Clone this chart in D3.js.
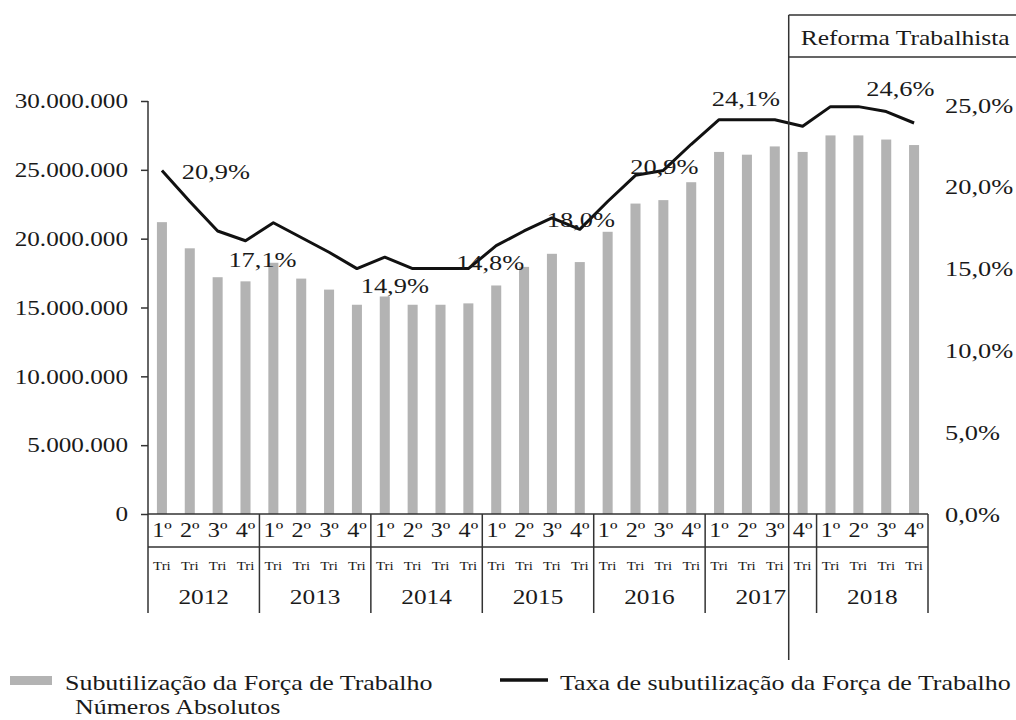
<!DOCTYPE html>
<html>
<head>
<meta charset="utf-8">
<script src="https://cdn.jsdelivr.net/npm/d3@7"></script>
<style>
  body { margin: 0; background: #fff; }
  svg text { font-family: "Liberation Serif", "Times New Roman", serif; fill: #1a1a1a; }
</style>
</head>
<body>
<div id="chart"></div>
<script>
// quarters 2012 Q1 .. 2018 Q4
const years = [2012, 2013, 2014, 2015, 2016, 2017, 2018];
const quarterLabels = ['1º', '2º', '3º', '4º'];

// Subutilização da Força de Trabalho - números absolutos
const absolute = [
    21200000, 19300000, 17200000, 16900000,
    18250000, 17100000, 16300000, 15200000,
    15800000, 15200000, 15200000, 15300000,
    16600000, 17950000, 18900000, 18300000,
    20500000, 22550000, 22800000, 24100000,
    26300000, 26100000, 26700000, 26300000,
    27500000, 27500000, 27200000, 26800000
];

// Taxa de subutilização (%)
const rate = [
    21.0, 19.1, 17.3, 16.7,
    17.8, 16.9, 16.0, 15.0,
    15.7, 15.0, 15.0, 15.0,
    16.4, 17.3, 18.1, 17.4,
    19.1, 20.7, 21.0, 22.6,
    24.1, 24.1, 24.1, 23.7,
    24.9, 24.9, 24.6, 23.9
];

// value annotations: quarter index and printed text
const noteIndex = [0, 3, 8, 12, 14, 18, 21, 25];
const noteText = ['20,9%', '17,1%', '14,9%', '14,8%', '18,0%', '20,9%', '24,1%', '24,6%'];

const leftTicks = [0, 5000000, 10000000, 15000000, 20000000, 25000000, 30000000];
const rightTicks = [0, 5, 10, 15, 20, 25];

const reformIndex = 22.5; // between 3º and 4º Tri 2017

const SX = 1.2;

const locale = d3.formatLocale({decimal: ',', thousands: '.', grouping: [3], currency: ['R$', '']});
const fmtNum = locale.format(',.0f');
const fmtPct = d => locale.format('.1f')(d) + '%';

// stretch text horizontally around its anchor
function stretch(sel, sx = SX) {
    sel.each(function() {
        const t = d3.select(this);
        const x = +t.attr('x') || 0;
        t.attr('x', x / sx).attr('transform', `scale(${sx},1)`);
    });
}

const W = 1016, H = 720;
const svg = d3.select('#chart').append('svg')
    .attr('width', W)
    .attr('height', H);

const keys = [];
years.forEach(y => quarterLabels.forEach((q, i) => keys.push(`${y}-${i + 1}`)));

const x = d3.scaleBand()
    .domain(keys)
    .range([148, 928])
    .paddingInner(0.64)
    .paddingOuter(0.32);
const step = x.step();
const cx = i => x(keys[0]) + x.bandwidth() / 2 + i * step;

const yL = d3.scaleLinear().domain([0, 30000000]).range([514, 101]);
const yR = d3.scaleLinear().domain([0, 25]).range([514, 105]);

const axisColor = '#333';
const rowTop = yL(0), rowMid = 547, rowBottom = 613;

// bars
svg.append('g')
    .selectAll('rect')
    .data(absolute)
    .join('rect')
    .attr('x', (d, i) => x(keys[i]))
    .attr('y', d => yL(d))
    .attr('width', x.bandwidth())
    .attr('height', d => yL(0) - yL(d))
    .attr('fill', '#b3b3b3');

// rate line
const line = d3.line()
    .x((d, i) => cx(i))
    .y(d => yR(d));

svg.append('path')
    .datum(rate)
    .attr('d', line)
    .attr('fill', 'none')
    .attr('stroke', '#111')
    .attr('stroke-width', 3)
    .attr('stroke-linejoin', 'round');

// left axis
const gL = svg.append('g')
    .attr('transform', 'translate(148,0)')
    .call(d3.axisLeft(yL).tickValues(leftTicks).tickFormat(fmtNum).tickSize(7).tickPadding(13));
gL.select('.domain').remove();
gL.selectAll('line').attr('stroke', axisColor).attr('stroke-width', 1.5);
gL.selectAll('text').style('font-size', '21px').attr('fill', '#1a1a1a');
stretch(gL.selectAll('text'));

// right axis (labels only)
const gR = svg.append('g')
    .attr('transform', 'translate(945,0)')
    .call(d3.axisRight(yR).tickValues(rightTicks).tickFormat(fmtPct).tickSize(0).tickPadding(0));
gR.select('.domain').remove();
gR.selectAll('text').style('font-size', '22px').attr('fill', '#1a1a1a');
stretch(gR.selectAll('text'));

// axis frame and category table
svg.append('line')
    .attr('x1', 148).attr('x2', 148)
    .attr('y1', yL(30000000)).attr('y2', rowBottom)
    .attr('stroke', axisColor).attr('stroke-width', 1.5);
svg.append('line')
    .attr('x1', 148).attr('x2', 928)
    .attr('y1', rowTop).attr('y2', rowTop)
    .attr('stroke', axisColor).attr('stroke-width', 1.5);
svg.append('line')
    .attr('x1', 148).attr('x2', 928)
    .attr('y1', rowMid).attr('y2', rowMid)
    .attr('stroke', axisColor).attr('stroke-width', 1.5);

const yearEdges = years.map((y, i) => x(keys[i * 4]) - step * 0.32);
yearEdges.push(928);
svg.append('g')
    .selectAll('line')
    .data(yearEdges.slice(1))
    .join('line')
    .attr('x1', d => d).attr('x2', d => d)
    .attr('y1', rowTop).attr('y2', rowBottom)
    .attr('stroke', axisColor).attr('stroke-width', 1.5);

// quarter labels
const qText = svg.append('g')
    .selectAll('text')
    .data(keys)
    .join('text')
    .attr('x', (d, i) => cx(i))
    .attr('y', 537)
    .attr('text-anchor', 'middle')
    .style('font-size', '21px')
    .text((d, i) => quarterLabels[i % 4]);
stretch(qText, 1.15);

const triText = svg.append('g')
    .selectAll('text')
    .data(keys)
    .join('text')
    .attr('x', (d, i) => cx(i))
    .attr('y', 570)
    .attr('text-anchor', 'middle')
    .style('font-size', '13.5px')
    .text('Tri');
stretch(triText, 1.1);

const yearText = svg.append('g')
    .selectAll('text')
    .data(years)
    .join('text')
    .attr('x', (d, i) => (yearEdges[i] + yearEdges[i + 1]) / 2)
    .attr('y', 604)
    .attr('text-anchor', 'middle')
    .style('font-size', '22px')
    .text(d => d);
stretch(yearText, 1.15);

// value annotations
const noteDx = [54, 17, 10, -6, 29, 1, -1, 42];
const noteDy = [9, 26, 36, 24, 9, 4, -14, -11];
const notes = svg.append('g')
    .selectAll('text')
    .data(noteIndex)
    .join('text')
    .attr('x', (d, i) => cx(d) + noteDx[i])
    .attr('y', (d, i) => yR(rate[d]) + noteDy[i])
    .attr('text-anchor', 'middle')
    .style('font-size', '22px')
    .text((d, i) => noteText[i]);
stretch(notes);

// reforma trabalhista marker
const rx = cx(reformIndex);
svg.append('line')
    .attr('x1', rx).attr('x2', rx)
    .attr('y1', 15).attr('y2', 660)
    .attr('stroke', axisColor).attr('stroke-width', 1.5);
svg.append('path')
    .attr('d', `M${rx},15H${W + 2}M${rx},57H${W + 2}`)
    .attr('stroke', axisColor).attr('stroke-width', 1.5)
    .attr('fill', 'none');
const reformText = svg.append('text')
    .attr('x', rx + 12)
    .attr('y', 45)
    .style('font-size', '22px')
    .text('Reforma Trabalhista');
stretch(reformText, 1.16);

// legend
svg.append('rect')
    .attr('x', 10).attr('y', 676)
    .attr('width', 42).attr('height', 9)
    .attr('fill', '#b3b3b3');
const leg1 = svg.append('text')
    .attr('x', 65).attr('y', 690)
    .style('font-size', '22px')
    .text('Subutilização da Força de Trabalho');
stretch(leg1, 1.18);
const leg1b = svg.append('text')
    .attr('x', 75).attr('y', 714)
    .style('font-size', '22px')
    .text('Números Absolutos');
stretch(leg1b, 1.18);

svg.append('line')
    .attr('x1', 500).attr('x2', 548)
    .attr('y1', 680).attr('y2', 680)
    .attr('stroke', '#111').attr('stroke-width', 3.5);
const leg2 = svg.append('text')
    .attr('x', 560).attr('y', 690)
    .style('font-size', '22px')
    .text('Taxa de subutilização da Força de Trabalho');
stretch(leg2, 1.18);
</script>
</body>
</html>
